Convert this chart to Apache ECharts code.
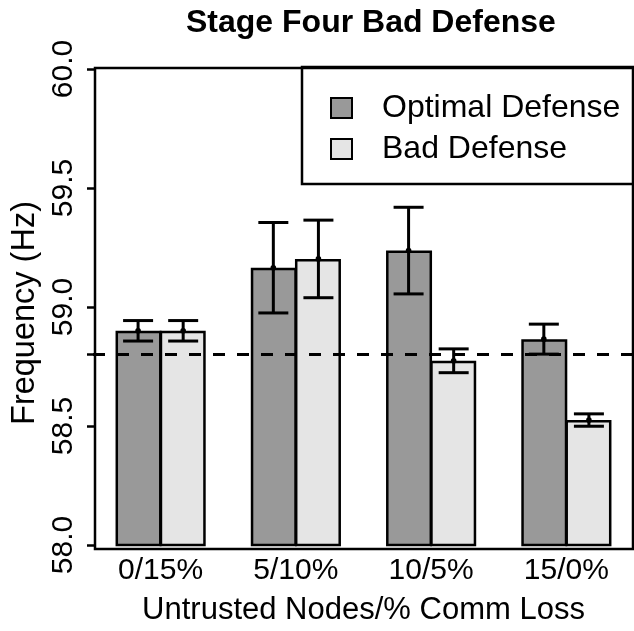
<!DOCTYPE html>
<html>
<head>
<meta charset="utf-8">
<script src="https://cdn.jsdelivr.net/npm/echarts@6/dist/echarts.min.js"></script>
<style>
  html, body { margin: 0; padding: 0; background: #fff; }
  #chart { width: 634px; height: 631px; }
</style>
</head>
<body>
<div id="chart"></div>
<script>
// Scenario groups on the x axis
const categories = ['0/15%', '5/10%', '10/5%', '15/0%'];

// Mean frequency (Hz) per scenario
const optimalMean = [58.90, 59.165, 59.237, 58.865];
const badMean = [58.90, 59.202, 58.774, 58.525];

// Half-width of the error bars (Hz)
const optimalErr = [0.043, 0.19, 0.182, 0.063];
const badErr = [0.043, 0.163, 0.050, 0.026];

// Nominal frequency reference line
const nominalLine = 58.8;

// Y axis ticks: labelled ticks plus an extra tick at the reference level
const yLabelTicks = [58.0, 58.5, 59.0, 59.5, 60.0];
const yTickValues = [58.0, 58.5, 58.8, 59.0, 59.5, 60.0];

const FONT = 'Liberation Sans, Arial, Helvetica, sans-serif';
const optimalColor = '#999999';
const badColor = '#e5e5e5';

function errData(mean, err) {
  return mean.map((m, i) => [i, m - err[i], m + err[i], m]);
}

// Vertical error bar with caps, shifted to sit on the centre of its bar
function makeErrRenderer(side) {
  return function (params, api) {
    const idx = api.value(0);
    const band = api.size([1, 0])[0];
    const shift = side * band / 6;
    const lo = api.coord([idx, api.value(1)]);
    const hi = api.coord([idx, api.value(2)]);
    const mid = api.coord([idx, api.value(3)]);
    const x = lo[0] + shift;
    const cap = 15;
    const style = { stroke: '#000', lineWidth: 3, fill: null };
    return {
      type: 'group',
      children: [
        { type: 'line', shape: { x1: x, y1: hi[1], x2: x, y2: lo[1] }, style },
        { type: 'line', shape: { x1: x - cap, y1: hi[1], x2: x + cap, y2: hi[1] }, style },
        { type: 'line', shape: { x1: x - cap, y1: lo[1], x2: x + cap, y2: lo[1] }, style },
        { type: 'circle', shape: { cx: x, cy: mid[1], r: 2.8 }, style: { fill: '#000' } }
      ]
    };
  };
}

const chart = echarts.init(document.getElementById('chart'), null, { renderer: 'canvas' });

const option = {
  backgroundColor: '#ffffff',
  animation: false,
  textStyle: { fontFamily: FONT },
  title: {
    text: 'Stage Four Bad Defense',
    left: 181,
    top: 2,
    textStyle: { fontFamily: FONT, fontSize: 32, fontWeight: 'bold', color: '#000' }
  },
  legend: {
    data: ['Optimal Defense', 'Bad Defense'],
    left: 302,
    top: 67,
    orient: 'vertical',
    selectedMode: false,
    icon: 'rect',
    itemWidth: 21,
    itemHeight: 20,
    itemGap: 9,
    padding: [25, 60, 19, 28],
    borderColor: '#000',
    borderWidth: 2.5,
    backgroundColor: '#fff',
    textStyle: { fontFamily: FONT, fontSize: 32, color: '#000', lineHeight: 30, padding: [0, 0, 0, 25] }
  },
  grid: { left: 93, top: 69, width: 545, height: 480, containLabel: false },
  xAxis: {
    type: 'category',
    data: categories,
    axisLine: { show: false },
    axisTick: { show: false },
    axisLabel: { fontFamily: FONT, fontSize: 30, color: '#000', margin: 11 },
    name: 'Untrusted Nodes/% Comm Loss',
    nameLocation: 'middle',
    nameGap: 50,
    nameTextStyle: { fontFamily: FONT, fontSize: 31, color: '#000' }
  },
  yAxis: {
    type: 'value',
    min: 58,
    max: 60,
    interval: 0.5,
    offset: -2,
    splitLine: { show: false },
    axisLine: { show: false },
    axisTick: {
      show: true, length: 8, customValues: yTickValues,
      lineStyle: { color: '#000', width: 2.5 }
    },
    axisLabel: {
      rotate: 90, margin: 16, fontFamily: FONT, fontSize: 30, color: '#000',
      customValues: yLabelTicks,
      formatter: v => Number(v).toFixed(1)
    },
    name: 'Frequency (Hz)',
    nameLocation: 'middle',
    nameGap: 50,
    nameRotate: 90,
    nameTextStyle: { fontFamily: FONT, fontSize: 32.5, color: '#000', padding: [0, 12, 0, 0] }
  },
  series: [
    {
      name: 'Optimal Defense',
      type: 'bar',
      data: optimalMean,
      barGap: '-4%',
      barCategoryGap: '33.33%',
      itemStyle: { color: optimalColor, borderColor: '#000', borderWidth: 2.5 },
      z: 2
    },
    {
      name: 'Bad Defense',
      type: 'bar',
      data: badMean,
      barGap: '-4%',
      barCategoryGap: '33.33%',
      itemStyle: { color: badColor, borderColor: '#000', borderWidth: 2.5 },
      z: 2
    },
    {
      type: 'custom',
      name: 'optimalErr',
      renderItem: makeErrRenderer(-1),
      data: errData(optimalMean, optimalErr),
      encode: { x: 0, y: [1, 2] },
      z: 5,
      silent: true,
      markLine: {
        silent: true,
        symbol: ['none', 'none'],
        label: { show: false },
        lineStyle: { color: '#000', type: [12, 12], width: 3 },
        data: [{ yAxis: nominalLine }]
      }
    },
    {
      type: 'custom',
      name: 'badErr',
      renderItem: makeErrRenderer(1),
      data: errData(badMean, badErr),
      encode: { x: 0, y: [1, 2] },
      z: 5,
      silent: true
    }
  ],
  graphic: [
    {
      // plot frame
      type: 'rect',
      shape: { x: 95, y: 68, width: 538, height: 481 },
      style: { fill: null, stroke: '#000', lineWidth: 2.5 },
      z: 100,
      silent: true
    }
  ]
};

chart.setOption(option);
</script>
</body>
</html>
